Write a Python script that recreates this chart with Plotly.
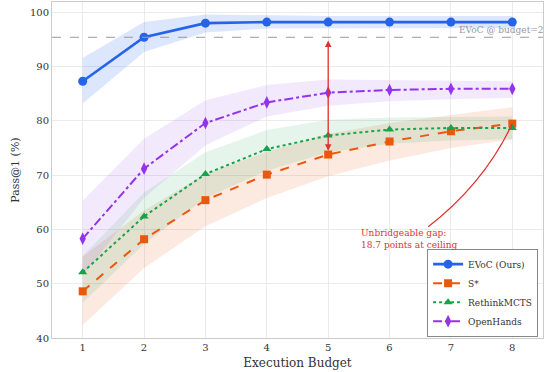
import plotly.graph_objects as go

budget = [1, 2, 3, 4, 5, 6, 7, 8]

evoc = [87.3, 95.4, 98.0, 98.2, 98.2, 98.2, 98.2, 98.2]
evoc_lo = [83.2, 92.7, 96.3, 97.0, 97.1, 97.1, 97.1, 97.1]
evoc_hi = [91.6, 98.2, 99.6, 99.4, 99.3, 99.3, 99.3, 99.3]

sstar = [48.6, 58.2, 65.4, 70.1, 73.8, 76.2, 78.1, 79.5]
sstar_lo = [42.4, 52.9, 60.6, 65.8, 69.8, 72.7, 75.0, 76.6]
sstar_hi = [55.0, 63.5, 70.2, 74.3, 77.6, 79.6, 81.1, 82.5]

rethink = [52.1, 62.4, 70.2, 74.8, 77.3, 78.4, 78.7, 78.7]
rethink_lo = [46.5, 57.3, 65.8, 70.8, 74.2, 75.8, 76.4, 76.6]
rethink_hi = [55.1, 66.8, 74.2, 78.3, 80.2, 80.6, 80.7, 80.8]

openhands = [58.3, 71.2, 79.6, 83.4, 85.2, 85.7, 85.9, 85.9]
openhands_lo = [51.5, 65.8, 75.5, 80.8, 82.8, 83.6, 84.0, 84.2]
openhands_hi = [65.3, 76.7, 83.8, 86.6, 87.6, 87.5, 87.4, 87.3]

series = [
    ("EVoC (Ours)", evoc, evoc_lo, evoc_hi, "#2563eb", "rgba(37,99,235,0.16)", "solid", "circle", 9, 2.6),
    ("S*", sstar, sstar_lo, sstar_hi, "#ea580c", "rgba(234,88,12,0.13)", "dash", "square", 8, 2.0),
    ("RethinkMCTS", rethink, rethink_lo, rethink_hi, "#16a34a", "rgba(22,163,74,0.11)", "dot", "triangle-up", 8, 2.0),
    ("OpenHands", openhands, openhands_lo, openhands_hi, "#9333ea", "rgba(147,51,234,0.11)", "dashdot", "diamond-tall", 9, 2.0),
]

FONT = "DejaVu Serif, Liberation Serif, serif"
fig = go.Figure()

for name, y, lo, hi, col, fill, dash, sym, ms, lw in series:
    fig.add_trace(go.Scatter(x=budget + budget[::-1], y=hi + lo[::-1], fill="toself",
                             fillcolor=fill, line=dict(width=0), hoverinfo="skip",
                             showlegend=False, mode="lines"))

for name, y, lo, hi, col, fill, dash, sym, ms, lw in series:
    fig.add_trace(go.Scatter(x=budget, y=y, name=name, mode="lines+markers",
                             line=dict(color=col, width=lw, dash=dash),
                             marker=dict(symbol=sym, size=ms, color=col)))

red = "#e03131"
# reference line at EVoC budget=2
fig.add_shape(type="line", xref="paper", x0=0, x1=1, yref="y", y0=evoc[1], y1=evoc[1],
              line=dict(color="#9a9a9a", width=1, dash="dash"))
fig.add_annotation(x=1.0, y=evoc[1], xref="paper", yref="y", text="EVoC @ budget=2",
                   showarrow=False, xanchor="right", yanchor="bottom", xshift=3,
                   font=dict(family=FONT, size=9, color="#999999"), yshift=0)

# vertical double arrow at budget 5
fig.add_annotation(x=5, y=evoc[1] - 0.6, ax=5, ay=sstar[4] + 0.4, xref="x", yref="y",
                   axref="x", ayref="y", showarrow=True, arrowhead=2, arrowside="end+start",
                   arrowsize=1, arrowwidth=1.3, arrowcolor=red, text="")

# curved arrow to final S* point
fig.add_shape(type="path", xref="x", yref="y",
              path=f"M 6.63,60.5 Q 7.54,68.45 {budget[-1]},{sstar[-1]}",
              line=dict(color=red, width=1.2))
fig.add_annotation(x=5.5, y=60.0, xref="x", yref="y",
                   text="Unbridgeable gap:<br>18.7 points at ceiling", showarrow=False,
                   xanchor="left", yanchor="top", align="left", yshift=3,
                   font=dict(family=FONT, size=9, color=red))

fig.update_layout(
    width=548, height=372,
    margin=dict(l=52, r=5, t=2, b=34),
    paper_bgcolor="white", plot_bgcolor="white",
    font=dict(family=FONT, size=10, color="#333333"),
    xaxis=dict(range=[0.5, 8.5], tickvals=budget, showgrid=True, gridcolor="#ebebeb",
               showline=True, linecolor="#cccccc", linewidth=1, mirror=True, zeroline=False,
               ticks="", title=dict(text="Execution Budget", font=dict(family=FONT, size=12), standoff=6),
               tickfont=dict(family=FONT, size=10, color="#333333")),
    yaxis=dict(range=[40, 101.9], tickvals=[40, 50, 60, 70, 80, 90, 100], showgrid=True,
               gridcolor="#ebebeb", showline=True, linecolor="#cccccc", linewidth=1, mirror=True,
               zeroline=False, ticks="", title=dict(text="Pass@1 (%)", font=dict(family=FONT, size=11), standoff=8),
               tickfont=dict(family=FONT, size=10, color="#333333")),
    legend=dict(x=0.99, y=0.004, xanchor="right", yanchor="bottom", bgcolor="white",
                bordercolor="#888888", borderwidth=1, font=dict(size=9, family=FONT),
                itemwidth=30, tracegroupgap=0),
    showlegend=True,
)

fig.write_html("out.html", config={"displayModeBar": False},
               post_script="document.body.style.margin='0';document.body.style.overflow='hidden';")
